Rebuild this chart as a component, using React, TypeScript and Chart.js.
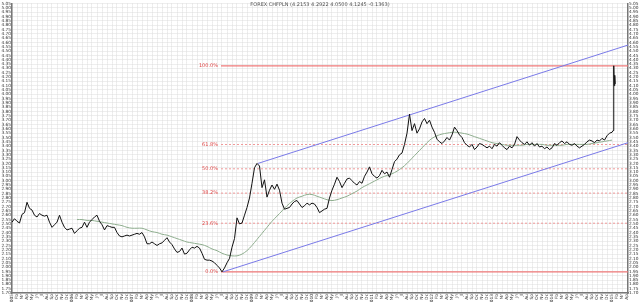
import React, { useEffect, useRef } from 'react';
import { Chart, registerables } from 'chart.js';
Chart.register(...registerables);

const TITLE = 'FOREX CHFPLN (4.2153 4.2922 4.0500 4.1245 -0.1363)';
const START_YEAR = 2005;
const MONTH_LABELS = ['Ja', 'Fb', 'Mr', 'Ap', 'My', 'Jn', 'Jl', 'Au', 'Sp', 'Oc', 'Nv', 'Dc'];
const X_MIN = 0;
const X_MAX = 123.2;

// semi-monthly closes from Jan 2005 (step = half month)
const PRICE_STEP = 0.5;
const prices = [
  2.52, 2.56, 2.53, 2.51, 2.61, 2.63, 2.75, 2.68, 2.66, 2.60,
  2.58, 2.62, 2.60, 2.59, 2.60, 2.52, 2.46, 2.49, 2.52, 2.60,
  2.52, 2.46, 2.43, 2.44, 2.45, 2.39, 2.42, 2.45, 2.46, 2.52,
  2.46, 2.52, 2.55, 2.58, 2.60, 2.53, 2.49, 2.43, 2.48, 2.47,
  2.46, 2.46, 2.40, 2.36, 2.35, 2.36, 2.37, 2.36, 2.37, 2.38,
  2.39, 2.38, 2.40, 2.35, 2.27, 2.27, 2.29, 2.27, 2.25, 2.27,
  2.28, 2.31, 2.34, 2.29, 2.26, 2.21, 2.17, 2.18, 2.22, 2.15,
  2.16, 2.20, 2.23, 2.22, 2.24, 2.22, 2.16, 2.09, 2.08, 2.08,
  2.07, 2.05, 2.02, 1.99, 1.945, 1.99, 2.05, 2.10, 2.23, 2.33,
  2.57, 2.50, 2.51, 2.60, 2.69, 2.80, 2.97, 3.15, 3.20, 3.17,
  2.92, 3.01, 2.81, 2.89, 2.95, 2.90, 2.96, 2.89, 2.74, 2.67,
  2.68, 2.69, 2.73, 2.76, 2.77, 2.73, 2.69, 2.71, 2.74, 2.72,
  2.74, 2.73, 2.69, 2.63, 2.65, 2.67, 2.68, 2.80, 2.89, 2.96,
  3.04, 2.99, 2.92, 2.97, 3.02, 3.03,
  3.00, 2.97, 2.95, 2.99, 2.97, 3.05, 3.10, 3.16, 3.08, 3.05,
  3.03, 3.06, 3.12, 3.08, 3.10, 3.04, 3.13, 3.22, 3.25, 3.30,
  3.32, 3.42, 3.55, 3.77, 3.58, 3.66, 3.55, 3.60, 3.68, 3.72,
  3.66, 3.70, 3.62, 3.56, 3.48, 3.45, 3.43, 3.46, 3.50, 3.47,
  3.53, 3.62, 3.58, 3.53, 3.50, 3.44, 3.41, 3.39, 3.42, 3.36,
  3.39, 3.43, 3.42, 3.40, 3.38, 3.40, 3.37, 3.42, 3.40, 3.44,
  3.41, 3.38, 3.36, 3.40, 3.38, 3.42, 3.51, 3.47, 3.44, 3.42,
  3.45, 3.41, 3.44, 3.40, 3.43, 3.39, 3.40, 3.37, 3.39, 3.36,
  3.38, 3.43, 3.41, 3.44, 3.46, 3.43, 3.45, 3.42, 3.41, 3.43,
  3.40, 3.38, 3.40, 3.42, 3.45, 3.47, 3.46, 3.44, 3.47, 3.46,
  3.49, 3.47, 3.52, 3.55, 3.56,
];
// January 2015 spike (month index, price)
const spikeMonths = [120.2, 120.35, 120.45, 120.55, 120.65];
const spikePrices = [3.58, 4.33, 4.10, 4.22, 4.12];

// moving average, monthly from month 13
const MA_START = 13;
const maValues = [
  2.55, 2.55, 2.54, 2.54, 2.53, 2.52, 2.51, 2.50, 2.49, 2.48,
  2.46, 2.45, 2.45, 2.45, 2.43, 2.41, 2.40, 2.38, 2.37, 2.35,
  2.33, 2.31, 2.29, 2.28, 2.27, 2.26, 2.24, 2.21, 2.19, 2.16,
  2.14, 2.13, 2.13, 2.15, 2.19, 2.25, 2.32, 2.39, 2.46, 2.53,
  2.59, 2.65, 2.71, 2.76, 2.80, 2.82, 2.84, 2.84, 2.82, 2.80,
  2.78, 2.77, 2.78, 2.80, 2.82, 2.85, 2.88, 2.92, 2.95, 2.98,
  3.01, 3.04, 3.06, 3.08, 3.11, 3.15, 3.20, 3.26, 3.32, 3.38,
  3.44, 3.49, 3.52, 3.54, 3.55, 3.56, 3.56, 3.55, 3.54, 3.52,
  3.50, 3.48, 3.46, 3.44, 3.43, 3.42, 3.41, 3.41, 3.41, 3.41,
  3.42, 3.42, 3.42, 3.42, 3.41, 3.41, 3.41, 3.41, 3.42, 3.42,
  3.42, 3.42, 3.42, 3.43, 3.44, 3.45, 3.46, 3.47,
];

// Fibonacci retracement
const FIB_LOW = 1.945;
const FIB_HIGH = 4.33;
const FIB_START = 41.8;
const fibRatios = [0, 0.236, 0.382, 0.5, 0.618, 1];
const fibLabels = ['0.0%', '23.6%', '38.2%', '50.0%', '61.8%', '100.0%'];

// trend channel
const upperMonths = [49.2, 123.2];
const upperPrices = [3.2, 4.57];
const lowerMonths = [42.2, 123.2];
const lowerPrices = [1.945, 3.44];

const Y_MIN = 1.7;
const Y_MAX = 5.05;
const Y_STEP_CENTS = 5;

const FONT = '"DejaVu Sans", sans-serif';

export default function App() {
  const ref = useRef<HTMLCanvasElement | null>(null);

  useEffect(() => {
    document.body.style.margin = '0';
    const canvas = ref.current;
    if (!canvas) return;

    const priceData = prices.map((p, i) => ({ x: i * PRICE_STEP, y: p }));
    spikeMonths.forEach((m, i) => priceData.push({ x: m, y: spikePrices[i] }));
    const maData = maValues.map((v, i) => ({ x: MA_START + i, y: v }));

    const fibSets = fibRatios.map((r) => {
      const p = FIB_LOW + r * (FIB_HIGH - FIB_LOW);
      const solid = r === 0 || r === 1;
      return {
        data: [{ x: FIB_START, y: p }, { x: X_MAX, y: p }],
        borderColor: solid ? '#f07a7a' : '#f09a9a',
        borderWidth: solid ? 1.2 : 1,
        borderDash: solid ? [] : [2, 2],
        pointRadius: 0,
        order: 5,
      };
    });

    const yTicks: number[] = [];
    for (let c = Math.round(Y_MIN * 100); c <= Math.round(Y_MAX * 100); c += Y_STEP_CENTS) yTicks.push(c / 100);
    const xTicks: number[] = [];
    for (let m = Math.ceil(X_MIN); m <= Math.floor(X_MAX); m++) xTicks.push(m);

    const overlay = {
      id: 'overlay',
      afterDatasetsDraw(chart: any) {
        const { ctx, scales } = chart;
        const x = scales.x;
        const y = scales.y;
        ctx.save();
        ctx.font = '5px ' + FONT;
        ctx.fillStyle = '#e04848';
        ctx.textAlign = 'right';
        ctx.textBaseline = 'middle';
        fibRatios.forEach((r, i) => {
          const p = FIB_LOW + r * (FIB_HIGH - FIB_LOW);
          ctx.fillText(fibLabels[i], x.getPixelForValue(FIB_START) - 3, y.getPixelForValue(p));
        });
        ctx.fillStyle = '#555';
        ctx.textAlign = 'center';
        ctx.fillText(TITLE, (x.left + x.right) / 2, 5);
        ctx.restore();
      },
    };

    const yAxisCommon = (position: 'left' | 'right', grid: boolean) => ({
      type: 'linear' as const,
      position,
      min: Y_MIN,
      max: Y_MAX,
      afterBuildTicks: (scale: any) => {
        scale.ticks = yTicks.map((v) => ({ value: v }));
      },
      afterFit: (scale: any) => {
        scale.width = 12;
      },
      ticks: {
        autoSkip: false,
        font: { size: 4.3, family: FONT },
        color: '#333',
        padding: 1,
        callback: (v: any) => Number(v).toFixed(2),
      },
      grid: {
        display: grid,
        color: '#dcdcdc',
        lineWidth: 1,
        drawTicks: false,
      },
      border: { display: true, color: '#777', width: 1.5, dash: [1, 1] },
    });

    const chart = new Chart(canvas, {
      type: 'line',
      data: {
        datasets: [
          {
            data: priceData,
            borderColor: '#111',
            borderWidth: 1,
            pointRadius: 0,
            order: 1,
          },
          {
            data: maData,
            borderColor: '#8fae8f',
            borderWidth: 1,
            pointRadius: 0,
            tension: 0.3,
            order: 2,
          },
          {
            data: upperMonths.map((m, i) => ({ x: m, y: upperPrices[i] })),
            borderColor: '#7a7ae8',
            borderWidth: 1,
            pointRadius: 0,
            order: 3,
          },
          {
            data: lowerMonths.map((m, i) => ({ x: m, y: lowerPrices[i] })),
            borderColor: '#7a7ae8',
            borderWidth: 1,
            pointRadius: 0,
            order: 3,
          },
          ...fibSets,
        ] as any,
      },
      options: {
        animation: false,
        responsive: false,
        devicePixelRatio: 1,
        layout: { padding: { top: 3, left: 0, right: 0, bottom: 0 } },
        plugins: {
          legend: { display: false },
          tooltip: { enabled: false },
        },
        scales: {
          x: {
            type: 'linear',
            min: X_MIN,
            max: X_MAX,
            afterBuildTicks: (scale: any) => {
              scale.ticks = xTicks.map((v) => ({ value: v }));
            },
            afterFit: (scale: any) => {
              scale.height = 9;
            },
            ticks: {
              autoSkip: false,
              minRotation: 90,
              maxRotation: 90,
              font: { size: 4.3, family: FONT },
              color: '#333',
              padding: 1,
              callback: (v: any) => {
                const m = Math.round(Number(v));
                const mo = m % 12;
                return mo === 0 ? String(START_YEAR + Math.floor(m / 12)) : MONTH_LABELS[mo];
              },
            },
            grid: { color: '#dcdcdc', lineWidth: 1, drawTicks: false },
            border: { display: true, color: '#777', width: 1.5, dash: [1, 1] },
          },
          y: yAxisCommon('left', true),
          y2: yAxisCommon('right', false),
        } as any,
      },
      plugins: [overlay],
    });

    return () => chart.destroy();
  }, []);

  return <canvas ref={ref} width={640} height={302} style={{ display: 'block' }} />;
}
